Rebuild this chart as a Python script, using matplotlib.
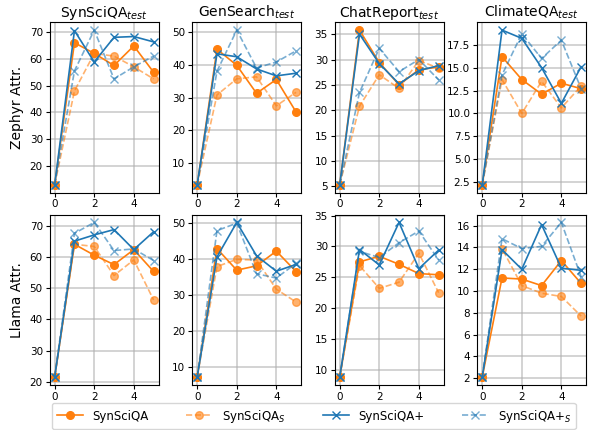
import matplotlib
matplotlib.use("Agg")
import matplotlib.pyplot as plt
from matplotlib.ticker import MultipleLocator

steps = [0, 1, 2, 3, 4, 5]
datasets = ["SynSciQA", "GenSearch", "ChatReport", "ClimateQA"]
models = ["Zephyr", "Llama"]

# values per model, per dataset: [SynSciQA, SynSciQA_S, SynSciQA+, SynSciQA+_S]
zephyr_synsciqa = [[13, 66, 62, 57.5, 64.8, 55], [13, 48, 62, 61, 57, 52.5],
                   [13, 70.5, 58.8, 68, 68.3, 66.3], [13, 55.5, 70.7, 52.5, 57, 61]]
zephyr_gensearch = [[3.5, 44.7, 39.8, 31.3, 35.5, 25.6], [3.5, 30.8, 35.7, 36.3, 27.5, 31.6],
                    [3.5, 43.3, 42.4, 38.7, 36.6, 37.4], [3.5, 38, 50.5, 39, 40.8, 44.2]]
zephyr_chatreport = [[5.3, 35.8, 29.4, 25, 28, 28.5], [5.3, 20.8, 27, 24.3, 29.8, 28.3],
                     [5.3, 35, 29.2, 25.2, 27.8, 28.8], [5.3, 23.5, 32.2, 27.6, 30, 26]]
zephyr_climateqa = [[2.2, 16.2, 13.7, 12.1, 13.3, 12.7], [2.2, 13.7, 10, 13.5, 10.6, 13.0],
                    [2.2, 19.1, 18.2, 15.0, 11.1, 15.1], [2.2, 14.2, 18.7, 16.0, 18.0, 12.7]]

llama_synsciqa = [[21.5, 64, 60.5, 57.5, 62.3, 55.3], [21.5, 64, 63.3, 54, 59, 46.2],
                  [21.5, 65, 67, 68.7, 62.3, 68], [21.5, 67.5, 71, 62, 62.5, 58.8]]
llama_gensearch = [[7.2, 43, 37, 38.2, 42.3, 36.6], [7.2, 38, 40, 39.8, 31.7, 28.1],
                   [7.2, 40.7, 50.3, 41, 36.7, 38.6], [7.2, 48, 50.1, 36, 34.8, 38.9]]
llama_chatreport = [[8.8, 27.5, 28.4, 27.1, 25.6, 25.4], [8.8, 26.9, 23.2, 24.2, 28.9, 22.5],
                    [8.8, 29.5, 27, 33.9, 26.4, 29.4], [8.8, 29.2, 28.2, 30.6, 32.5, 27.8]]
llama_climateqa = [[2.1, 11.2, 11.1, 10.5, 12.8, 10.7], [2.1, 13.9, 10.5, 9.8, 9.5, 7.7],
                   [2.1, 13.8, 12.0, 16.1, 12.1, 11.9], [2.1, 14.8, 13.9, 14.1, 16.3, 11.3]]

results = [[zephyr_synsciqa, zephyr_gensearch, zephyr_chatreport, zephyr_climateqa],
           [llama_synsciqa, llama_gensearch, llama_chatreport, llama_climateqa]]
ytick_steps = [[10, 10, 5, 2.5], [10, 10, 5, 2]]

labels = ["SynSciQA", "SynSciQA$_S$", "SynSciQA+", "SynSciQA+$_S$"]
styles = [dict(color="#ff7f0e", marker="o", linestyle="-", alpha=1.0),
          dict(color="#ff7f0e", marker="o", linestyle="--", alpha=0.6),
          dict(color="#1f77b4", marker="x", linestyle="-", alpha=1.0),
          dict(color="#1f77b4", marker="x", linestyle="--", alpha=0.6)]

fig, axes = plt.subplots(2, 4, figsize=(5.92, 4.3), dpi=100)
fig.subplots_adjust(left=0.084, right=0.99, top=0.948, bottom=0.105,
                    wspace=0.31, hspace=0.13)

for r in range(2):
    for c in range(4):
        ax = axes[r, c]
        for series, lab, st in zip(results[r][c], labels, styles):
            ax.plot(steps, series, label=lab, markersize=5.5, linewidth=1.2, **st)
        ax.set_xticks([0, 2, 4])
        ax.yaxis.set_major_locator(MultipleLocator(ytick_steps[r][c]))
        ax.grid(True, color="#b0b0b0", linewidth=1.3, alpha=0.6)
        ax.tick_params(labelsize=7.5, length=3, pad=2)
        if r == 0:
            ax.set_title(datasets[c] + "$_{test}$", fontsize=10, pad=4)
        if c == 0:
            ax.set_ylabel(models[r] + " Attr.", fontsize=10)

handles, labs = axes[0, 0].get_legend_handles_labels()
fig.legend(handles, labs, loc="lower center", bbox_to_anchor=(0.53, -0.012), ncol=4,
           fontsize=8.5, handlelength=2.2, columnspacing=3.2, borderpad=0.4)

fig.savefig("out.png", dpi=100)
